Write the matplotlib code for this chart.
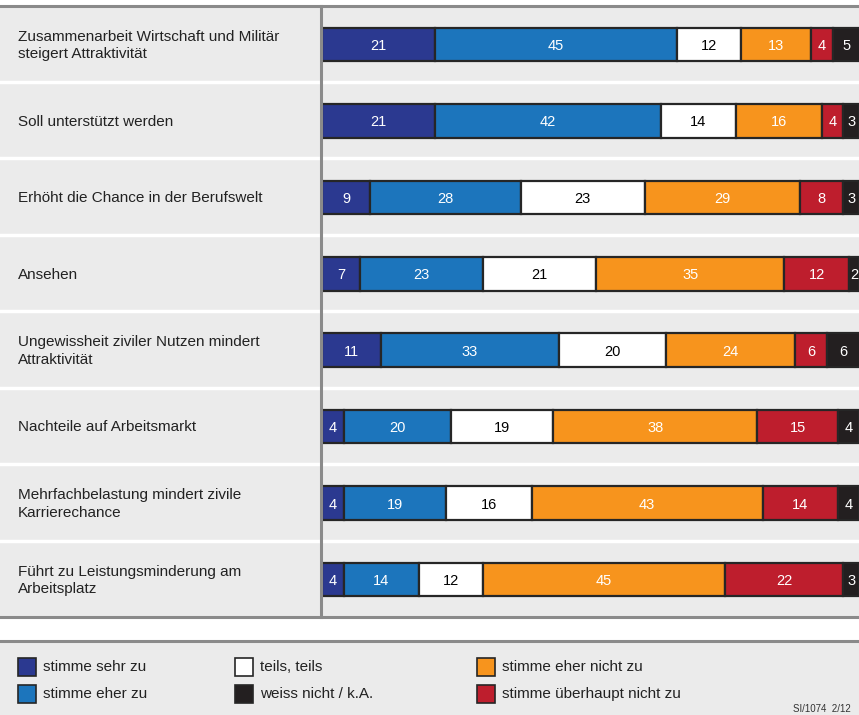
import matplotlib
matplotlib.use("Agg")
import matplotlib.pyplot as plt
from matplotlib.patches import Rectangle
from matplotlib.lines import Line2D

plt.rcParams['font.family'] = ['Liberation Sans', 'DejaVu Sans']

categories = [
    "Zusammenarbeit Wirtschaft und Militär\nsteigert Attraktivität",
    "Soll unterstützt werden",
    "Erhöht die Chance in der Berufswelt",
    "Ansehen",
    "Ungewissheit ziviler Nutzen mindert\nAttraktivität",
    "Nachteile auf Arbeitsmarkt",
    "Mehrfachbelastung mindert zivile\nKarrierechance",
    "Führt zu Leistungsminderung am\nArbeitsplatz",
]
series_names = ["stimme sehr zu", "stimme eher zu", "teils, teils",
                "stimme eher nicht zu", "stimme überhaupt nicht zu", "weiss nicht / k.A."]
sehr_zu = [21, 21, 9, 7, 11, 4, 4, 4]
eher_zu = [45, 42, 28, 23, 33, 20, 19, 14]
teils = [12, 14, 23, 21, 20, 19, 16, 12]
eher_nicht = [13, 16, 29, 35, 24, 38, 43, 45]
ueberhaupt_nicht = [4, 4, 8, 12, 6, 15, 14, 22]
weiss_nicht = [5, 3, 3, 2, 6, 4, 4, 3]
series = [sehr_zu, eher_zu, teils, eher_nicht, ueberhaupt_nicht, weiss_nicht]
colors = ["#2b3990", "#1c75bc", "#ffffff", "#f7941d", "#be1e2d", "#231f20"]
text_colors = ["white", "white", "black", "white", "white", "white"]
source_note = "SI/1074  2/12"

W, H = 859, 715
fig = plt.figure(figsize=(W / 100, H / 100), dpi=100)
fig.patch.set_facecolor("white")

def fy(px):
    return 1 - px / H

def fx(px):
    return px / W

panel_top, panel_bot = 5.5, 617.0
bg = "#ebebeb"
line_gray = "#8a8a8a"

# chart panel background
fig.patches.append(Rectangle((0, fy(panel_bot)), 1, fy(panel_top) - fy(panel_bot),
                             transform=fig.transFigure, facecolor=bg, edgecolor="none", zorder=-10))
# legend panel background
fig.patches.append(Rectangle((0, 0), 1, fy(641), transform=fig.transFigure,
                             facecolor=bg, edgecolor="none", zorder=-10))

n = len(categories)
# background axes for separators and labels
axbg = fig.add_axes([0, fy(panel_bot), 1, fy(panel_top) - fy(panel_bot)])
axbg.set_zorder(1)
axbg.set_xlim(0, W)
axbg.set_ylim(n - 0.5, -0.5)
axbg.axis("off")
for i in range(n - 1):
    axbg.plot([0, W], [i + 0.5, i + 0.5], color="white", lw=2.5, zorder=1)
for i, c in enumerate(categories):
    axbg.text(18, i + 0.02, c, ha="left", va="center", fontsize=11, color="#222222",
              linespacing=1.3)

# bars axes
ax = fig.add_axes([fx(322), fy(panel_bot), fx(859.5) - fx(322), fy(panel_top) - fy(panel_bot)])
ax.set_zorder(2)
ax.patch.set_alpha(0)
ax.set_xlim(0, 100)
ax.set_ylim(n - 0.5, -0.5)
ax.axis("off")
left = [0] * n
for s, col, tc in zip(series, colors, text_colors):
    ax.barh([i + 0.01 for i in range(n)], s, left=left, height=0.44, color=col,
            edgecolor="#262626", linewidth=1.6, zorder=3)
    for i, v in enumerate(s):
        ax.text(left[i] + v / 2, i + 0.01, str(v), ha="center", va="center_baseline",
                fontsize=10.5, color=tc, zorder=4)
    left = [l + v for l, v in zip(left, s)]

# panel lines
for xs, ys in [([0, 1], [fy(panel_top)] * 2), ([0, 1], [fy(panel_bot)] * 2),
               ([fx(321)] * 2, [fy(panel_bot), fy(panel_top)]), ([0, 1], [fy(641)] * 2)]:
    fig.lines.append(Line2D(xs, ys, transform=fig.transFigure, color=line_gray, lw=2.2, zorder=5))

# legend
legend_pos = [(18, 667), (18, 694), (235, 667), (235, 694), (477, 667), (477, 694)]
order = [0, 1, 2, 5, 3, 4]
for (x, y), k in zip(legend_pos, order):
    fig.patches.append(Rectangle((fx(x), fy(y + 9)), fx(18), 18 / H, transform=fig.transFigure,
                                 facecolor=colors[k], edgecolor="#262626", lw=1.2, zorder=6))
    fig.text(fx(x + 25), fy(y), series_names[k], ha="left", va="center",
             fontsize=11, color="#222222")

fig.text(fx(793), fy(709), source_note, ha="left", va="center", fontsize=7, color="#333333")

fig.savefig("out.png", dpi=100, facecolor=fig.get_facecolor())
